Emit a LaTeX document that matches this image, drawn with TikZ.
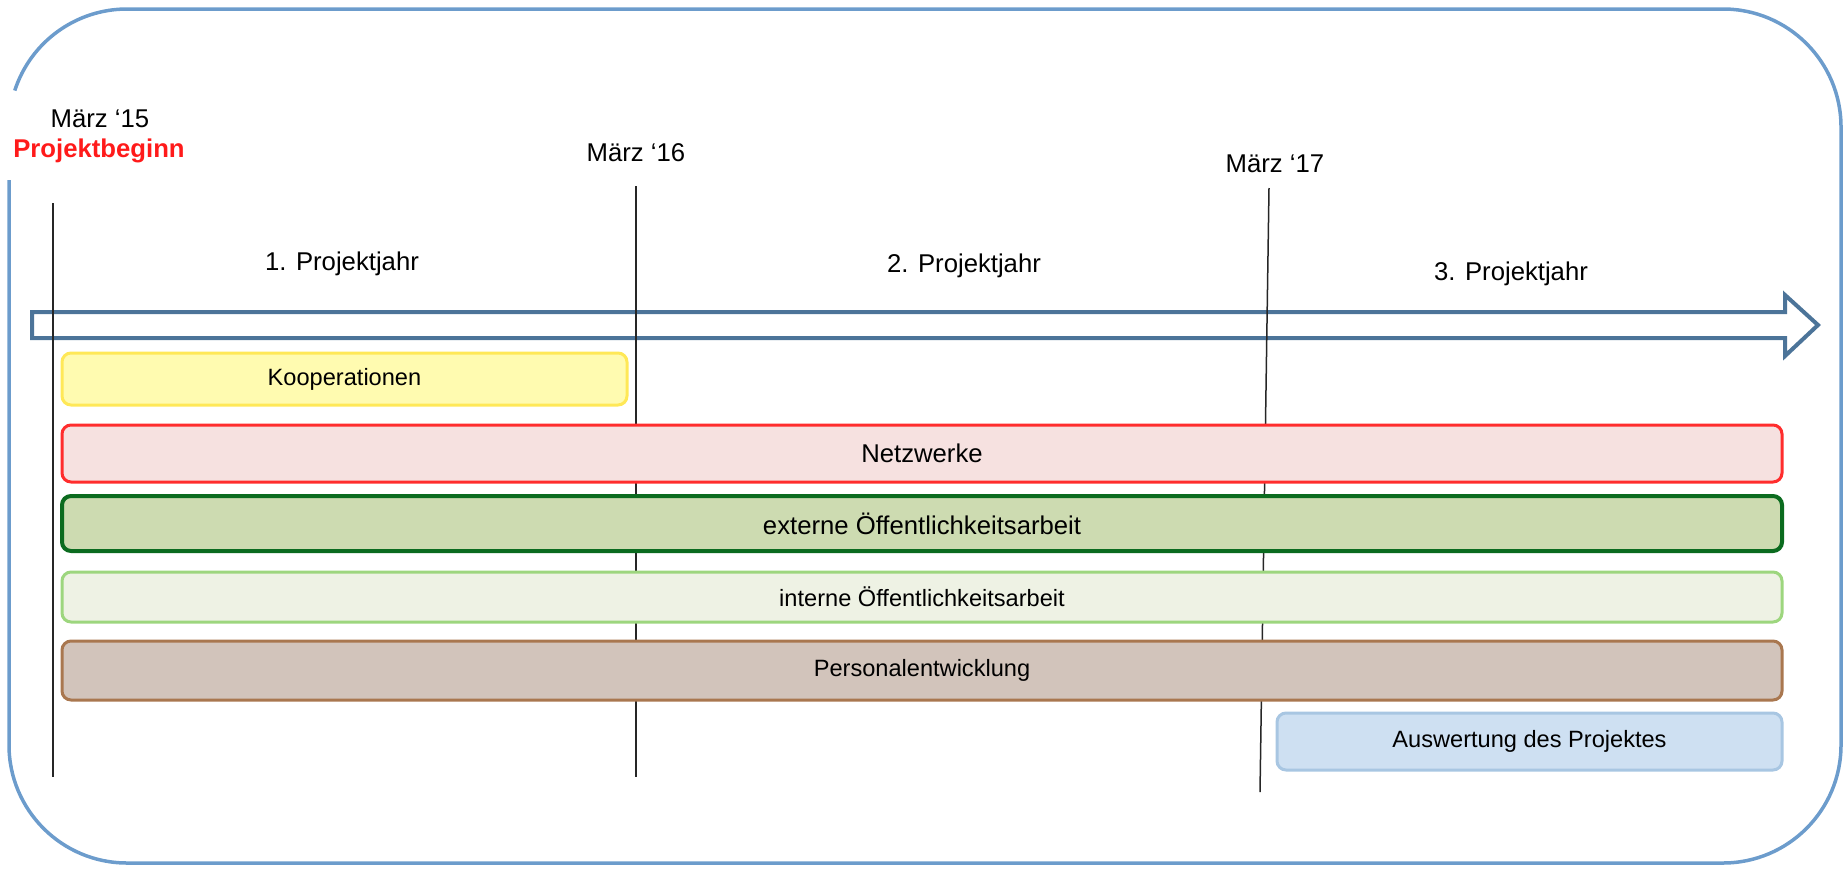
\documentclass[tikz,border=0pt]{standalone}
\usepackage{fontspec}
\setmainfont{Liberation Sans}
\definecolor{framec}{RGB}{108,156,204}
\definecolor{arrowc}{RGB}{76,116,153}
\definecolor{koopfill}{RGB}{255,251,176}
\definecolor{koopdraw}{RGB}{255,232,87}
\definecolor{netzfill}{RGB}{246,225,224}
\definecolor{netzdraw}{RGB}{255,45,45}
\definecolor{extfill}{RGB}{205,219,177}
\definecolor{extdraw}{RGB}{11,107,31}
\definecolor{intfill}{RGB}{238,242,228}
\definecolor{intdraw}{RGB}{157,214,126}
\definecolor{persfill}{RGB}{210,196,187}
\definecolor{persdraw}{RGB}{169,119,79}
\definecolor{auswfill}{RGB}{206,224,242}
\definecolor{auswdraw}{RGB}{168,198,226}
\definecolor{begred}{RGB}{255,26,26}
\begin{document}
\begin{tikzpicture}[x=1pt,y=-1pt,
  bar/.style={draw, rounded corners=9pt, line width=3pt, inner sep=0pt, text=black,
    font=\fontsize{23.6}{28}\selectfont},
  bigbar/.style={bar, font=\fontsize{25.7}{30}\selectfont},
  lbl/.style={inner sep=0pt, text=black, font=\fontsize{25.7}{30}\selectfont},
  vline/.style={draw=black!85, line width=1.5pt},
  frameline/.style={draw=framec, line width=3.5pt},
  bigarrow/.style={draw=arrowc, fill=white, line width=4pt, line join=miter}]
\useasboundingbox (0,0) rectangle (1847,868);
% outer frame (open on the left, behind the start label)
\draw[frameline, rounded corners=118pt] (9,180) -- (9,863) -- (1841,863) -- (1841,9) -- (127,9);
\draw[frameline] (127,9) arc[start angle=270, end angle=198, radius=118];
% time arrow
\draw[bigarrow] (32,312) -- (1785,312) -- (1785,295) -- (1818,325) -- (1785,356) -- (1785,338) -- (32,338) -- cycle;
% milestone lines
\coordinate (t1) at (53,203);   \coordinate (b1) at (53,777);
\coordinate (t2) at (636,186);  \coordinate (b2) at (636,777);
\coordinate (t3) at (1269,188); \coordinate (b3) at (1260,792);
\draw[vline] (t1) -- (b1);
\draw[vline] (t2) -- (b2);
\draw[vline] (t3) -- (b3);
% labels
\node[lbl] (m15) at (100,119) {März ‘15};
\node[lbl, text=begred, font=\bfseries\fontsize{25.7}{30}\selectfont] (beg) at (99,151) {Projektbeginn};
\node[lbl] (m16) at (636,153) {März ‘16};
\node[lbl] (m17) at (1275,164) {März ‘17};
\node[lbl] (y1) at (342,264) {1. Projektjahr};
\node[lbl] (y2) at (964,266) {2. Projektjahr};
\node[lbl] (y3) at (1511,274) {3. Projektjahr};
% bars
\node[bar, fill=koopfill, draw=koopdraw, minimum width=565pt, minimum height=52pt] (koop) at (344.5,379) {Kooperationen};
\node[bigbar, fill=netzfill, draw=netzdraw, minimum width=1720pt, minimum height=57pt] (netz) at (922,453.5) {Netzwerke};
\node[bigbar, fill=extfill, draw=extdraw, line width=4pt, minimum width=1720pt, minimum height=55pt] (ext) at (922,523.5) {externe Öffentlichkeitsarbeit};
\node[bar, fill=intfill, draw=intdraw, minimum width=1720pt, minimum height=50pt] (int) at (922,597) {interne Öffentlichkeitsarbeit};
\node[bar, fill=persfill, draw=persdraw, minimum width=1720pt, minimum height=59pt] (pers) at (922,670.5) {Personalentwicklung};
\node[bar, fill=auswfill, draw=auswdraw, minimum width=505pt, minimum height=57pt] (ausw) at (1529.5,741.5) {Auswertung des Projektes};
\end{tikzpicture}
\end{document}
